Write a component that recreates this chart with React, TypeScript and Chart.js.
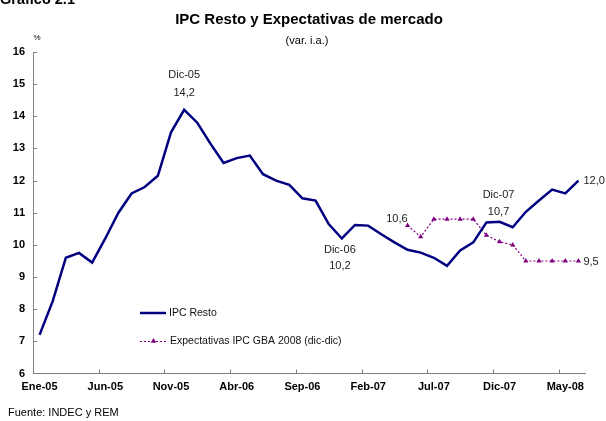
import { useEffect, useRef } from 'react';
import { Chart, registerables } from 'chart.js';

Chart.register(...registerables);

const months = [
  'Ene-05', 'Feb-05', 'Mar-05', 'Abr-05', 'May-05', 'Jun-05', 'Jul-05', 'Ago-05', 'Sep-05', 'Oct-05', 'Nov-05', 'Dic-05',
  'Ene-06', 'Feb-06', 'Mar-06', 'Abr-06', 'May-06', 'Jun-06', 'Jul-06', 'Ago-06', 'Sep-06', 'Oct-06', 'Nov-06', 'Dic-06',
  'Ene-07', 'Feb-07', 'Mar-07', 'Abr-07', 'May-07', 'Jun-07', 'Jul-07', 'Ago-07', 'Sep-07', 'Oct-07', 'Nov-07', 'Dic-07',
  'Ene-08', 'Feb-08', 'Mar-08', 'Abr-08', 'May-08', 'Jun-08',
];

const ipcResto = [
  7.2, 8.25, 9.6, 9.75, 9.45, 10.2, 11.0, 11.6, 11.8, 12.15, 13.5, 14.2,
  13.8, 13.15, 12.55, 12.7, 12.78, 12.2, 12.0, 11.87, 11.45, 11.38, 10.65, 10.2,
  10.62, 10.6, 10.33, 10.08, 9.85, 9.76, 9.6, 9.35, 9.83, 10.08, 10.7, 10.72,
  10.55, 11.03, 11.38, 11.72, 11.6, 12.0,
];

const expectativas = [
  null, null, null, null, null, null, null, null, null, null, null, null,
  null, null, null, null, null, null, null, null, null, null, null, null,
  null, null, null, null, 10.6, 10.25, 10.8, 10.8, 10.8, 10.8, 10.3, 10.1,
  10.0, 9.5, 9.5, 9.5, 9.5, 9.5,
];

const seriesNames = ['IPC Resto', 'Expectativas IPC GBA 2008 (dic-dic)'];
const labelEvery = 5;
const yMin = 6;
const yMax = 16;

const FONT = "'Liberation Sans', Arial, sans-serif";
const NAVY = '#000080';
const PURPLE = '#800080';
const AXIS = '#808080';

type Note = { series: 0 | 1; index: number; head?: string; dx: number; dyHead: number; dyValue: number; align: CanvasTextAlign };
const notes: Note[] = [
  { series: 0, index: 11, head: 'Dic-05', dx: 0, dyHead: -35, dyValue: -17, align: 'center' },
  { series: 0, index: 23, head: 'Dic-06', dx: -2, dyHead: 11, dyValue: 27, align: 'center' },
  { series: 1, index: 28, dx: 0, dyHead: 0, dyValue: -7, align: 'right' },
  { series: 0, index: 35, head: 'Dic-07', dx: -1, dyHead: -27, dyValue: -10, align: 'center' },
  { series: 0, index: 41, dx: 5, dyHead: 0, dyValue: 0, align: 'left' },
  { series: 1, index: 41, dx: 5, dyHead: 0, dyValue: 1, align: 'left' },
];

function triangle(ctx: CanvasRenderingContext2D, x: number, y: number, r: number) {
  ctx.beginPath();
  ctx.moveTo(x, y - r);
  ctx.lineTo(x + r * 0.95, y + r * 0.6);
  ctx.lineTo(x - r * 0.95, y + r * 0.6);
  ctx.closePath();
  ctx.fill();
}

const overlay = {
  id: 'overlay',
  afterDraw(chart: any) {
    const { ctx, chartArea, scales } = chart;
    const xs = scales.x;
    const ys = scales.y;
    ctx.save();

    // inside tick marks
    ctx.strokeStyle = AXIS;
    ctx.lineWidth = 1;
    const half = (xs.getPixelForValue(1) - xs.getPixelForValue(0)) / 2;
    ctx.beginPath();
    for (let i = labelEvery; i < months.length; i += labelEvery) {
      const px = Math.round(xs.getPixelForValue(i) - half) + 0.5;
      ctx.moveTo(px, chartArea.bottom);
      ctx.lineTo(px, chartArea.bottom - 4);
    }
    for (let v = yMin + 1; v <= yMax; v++) {
      const py = Math.round(ys.getPixelForValue(v)) + 0.5;
      ctx.moveTo(chartArea.left, py);
      ctx.lineTo(chartArea.left + 4, py);
    }
    ctx.stroke();

    // annotations
    ctx.fillStyle = '#222';
    ctx.font = `11px ${FONT}`;
    ctx.textBaseline = 'middle';
    const data = [ipcResto, expectativas];
    for (const n of notes) {
      const val = data[n.series][n.index] as number;
      const px = xs.getPixelForValue(n.index) + n.dx;
      const py = ys.getPixelForValue(val);
      ctx.textAlign = n.align;
      if (n.head) ctx.fillText(n.head, px, py + n.dyHead);
      ctx.fillText(val.toFixed(1).replace('.', ','), px, py + n.dyValue);
    }

    // legend
    const lx = chartArea.left + 107;
    const ly1 = chartArea.top + 261;
    const ly2 = chartArea.top + 289;
    ctx.strokeStyle = NAVY;
    ctx.lineWidth = 2.5;
    ctx.beginPath();
    ctx.moveTo(lx, ly1);
    ctx.lineTo(lx + 26, ly1);
    ctx.stroke();
    ctx.strokeStyle = PURPLE;
    ctx.lineWidth = 1.2;
    ctx.setLineDash([2, 2]);
    ctx.beginPath();
    ctx.moveTo(lx, ly2 + 0.5);
    ctx.lineTo(lx + 27, ly2 + 0.5);
    ctx.stroke();
    ctx.setLineDash([]);
    ctx.fillStyle = PURPLE;
    triangle(ctx, lx + 13.5, ly2, 3);
    ctx.fillStyle = '#111';
    ctx.font = `10.5px ${FONT}`;
    ctx.textAlign = 'left';
    ctx.fillText(seriesNames[0], lx + 29, ly1);
    ctx.fillText(seriesNames[1], lx + 30, ly2);

    // titles and texts
    ctx.fillStyle = '#000';
    ctx.font = `bold 15px ${FONT}`;
    ctx.textAlign = 'center';
    ctx.fillText('IPC Resto y Expectativas de mercado', 309, 20);
    ctx.font = `11px ${FONT}`;
    ctx.fillText('(var. i.a.)', 307, 41);
    ctx.font = `8px ${FONT}`;
    ctx.fillText('%', 37, 38);
    ctx.textAlign = 'left';
    ctx.font = `11px ${FONT}`;
    ctx.fillText('Fuente: INDEC y REM', 8, 413);
    ctx.font = `bold 14.5px ${FONT}`;
    ctx.textBaseline = 'alphabetic';
    ctx.fillText('Gráfico 2.1', 0, 4);

    ctx.restore();
  },
};

export default function App() {
  const ref = useRef<HTMLCanvasElement>(null);
  useEffect(() => {
    if (!ref.current) return;
    const chart = new Chart(ref.current, {
      type: 'line',
      data: {
        labels: months,
        datasets: [
          {
            label: seriesNames[0],
            data: ipcResto,
            borderColor: NAVY,
            backgroundColor: NAVY,
            borderWidth: 2.5,
            pointRadius: 0,
            tension: 0,
            fill: false,
          },
          {
            label: seriesNames[1],
            data: expectativas,
            borderColor: PURPLE,
            backgroundColor: PURPLE,
            borderWidth: 1.2,
            borderDash: [2, 2],
            pointStyle: 'triangle',
            pointRadius: 3,
            pointBorderWidth: 0,
            tension: 0,
            fill: false,
          },
        ],
      },
      options: {
        animation: false,
        responsive: false,
        devicePixelRatio: 1,
        layout: { padding: { left: 0, top: 52, right: 21, bottom: 27.5 } },
        plugins: { legend: { display: false }, title: { display: false }, tooltip: { enabled: false } },
        scales: {
          x: {
            type: 'category',
            offset: true,
            grid: { display: true, drawOnChartArea: false, drawTicks: false, offset: true },
            border: { display: true, color: AXIS, width: 1 },
            ticks: {
              autoSkip: false,
              maxRotation: 0,
              minRotation: 0,
              padding: 7,
              color: '#000',
              font: { family: FONT, size: 11, weight: 'bold' },
              callback: (_v: any, i: number) => (i % labelEvery === 0 ? months[i] : ''),
            },
            afterFit: (s: any) => { s.height = 20; },
          },
          y: {
            min: yMin,
            max: yMax,
            grid: { display: true, drawOnChartArea: false, drawTicks: false },
            border: { display: true, color: AXIS, width: 1 },
            ticks: {
              stepSize: 1,
              padding: 8,
              color: '#000',
              font: { family: FONT, size: 11, weight: 'bold' },
            },
            afterFit: (s: any) => { s.width = 33; },
          },
        },
      },
      plugins: [overlay],
    });
    return () => chart.destroy();
  }, []);
  return (
    <div style={{ position: 'absolute', left: 0, top: 0, width: 606, height: 421, background: '#fff' }}>
      <canvas ref={ref} width={606} height={421} style={{ display: 'block' }} />
    </div>
  );
}
